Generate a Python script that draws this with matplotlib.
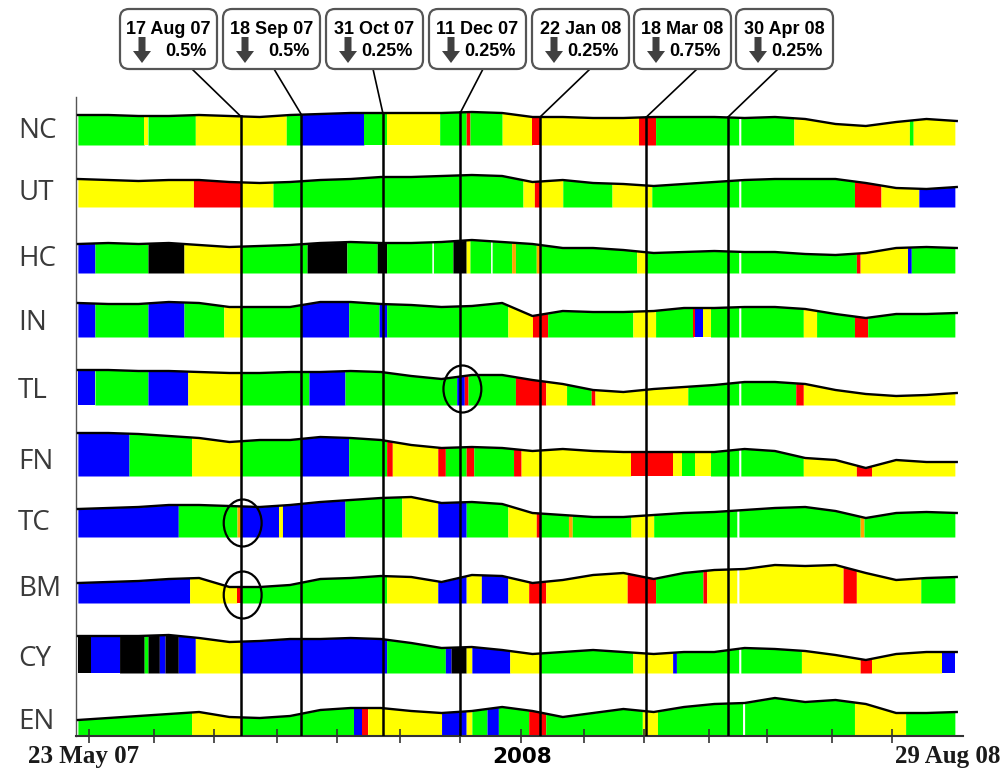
import numpy as np
import pandas as pd
import matplotlib
matplotlib.use("Agg")
import matplotlib.pyplot as plt
import matplotlib.patches as mpatches
from matplotlib.transforms import blended_transform_factory

W, H = 1005, 772

start = pd.Timestamp("2007-05-23")
end = pd.Timestamp("2008-08-29")
span = (end - start).days

rows = ["NC", "UT", "HC", "IN", "TL", "FN", "TC", "BM", "CY", "EN"]

# band heights every 16 days from 23 May 07
sample_days = np.arange(0, span + 1, 16)
nc_level = [30, 30, 29, 29, 30, 29, 28, 30, 31, 32, 32, 32, 32, 33, 32, 28, 28, 27, 27, 28, 28, 28, 27, 28, 26, 21, 19, 23, 26, 24]
ut_level = [28, 27, 26, 27, 27, 25, 24, 25, 27, 28, 30, 30, 31, 32, 31, 25, 27, 24, 23, 21, 23, 25, 27, 28, 28, 28, 24, 19, 18, 20]
hc_level = [29, 30, 29, 30, 28, 26, 27, 28, 30, 31, 30, 30, 31, 33, 31, 29, 25, 25, 23, 20, 21, 22, 21, 21, 19, 18, 20, 25, 26, 25]
in_level = [34, 33, 33, 35, 34, 30, 30, 30, 35, 35, 33, 32, 30, 31, 34, 21, 26, 25, 25, 26, 29, 29, 30, 30, 28, 23, 19, 23, 23, 24]
tl_level = [35, 35, 34, 34, 33, 32, 32, 33, 33, 34, 33, 29, 26, 30, 30, 25, 21, 15, 13, 16, 18, 20, 23, 23, 21, 15, 11, 9, 10, 12]
fn_level = [43, 43, 42, 40, 38, 34, 36, 36, 39, 38, 36, 31, 28, 29, 28, 25, 27, 25, 24, 24, 24, 24, 27, 25, 18, 16, 8, 16, 14, 14]
tc_level = [28, 29, 30, 32, 32, 31, 30, 32, 35, 37, 39, 40, 34, 35, 33, 24, 22, 20, 20, 22, 24, 25, 27, 29, 30, 26, 19, 24, 25, 24]
bm_level = [20, 21, 22, 24, 25, 16, 16, 18, 24, 25, 27, 26, 21, 28, 27, 20, 23, 28, 30, 24, 30, 33, 34, 38, 37, 38, 30, 23, 25, 26]
cy_level = [37, 37, 37, 38, 35, 31, 32, 34, 34, 35, 34, 30, 25, 26, 23, 19, 21, 23, 21, 19, 21, 21, 25, 24, 22, 18, 13, 19, 21, 21]
en_level = [16, 18, 20, 22, 24, 19, 18, 20, 26, 28, 28, 25, 23, 25, 29, 25, 19, 23, 27, 24, 29, 32, 33, 38, 34, 36, 32, 23, 23, 24]

# regimes: (first day, colour code)
nc_regime = [(0, "G"), (35, "Y"), (37, "G"), (62, "Y"), (110, "G"), (118, "B"), (151, "G"), (163, "Y"), (191, "G"),
             (205, "R"), (207, "G"), (224, "Y"), (240, "R"), (244, "Y"), (296, "R"), (305, "G"), (349, "W"), (350, "G"),
             (378, "Y"), (439, "G"), (441, "Y")]
ut_regime = [(0, "Y"), (61, "R"), (86, "Y"), (103, "G"), (235, "Y"), (241, "R"), (244, "Y"), (256, "G"), (282, "Y"),
             (303, "G"), (349, "W"), (350, "G"), (410, "R"), (424, "Y"), (444, "B")]
hc_regime = [(0, "B"), (9, "G"), (37, "K"), (56, "Y"), (86, "G"), (121, "K"), (142, "G"), (158, "K"), (163, "G"),
             (187, "W"), (187.7, "G"), (198, "K"), (205, "Y"), (207, "G"), (218, "W"), (218.7, "G"), (229, "O"),
             (231, "G"), (242, "O"), (244, "G"), (295, "Y"), (300, "G"), (349, "W"), (350, "G"), (411, "R"),
             (413, "Y"), (438, "B"), (440, "G")]
in_regime = [(0, "B"), (9, "G"), (37, "B"), (56, "G"), (77, "Y"), (86, "G"), (118, "B"), (143, "G"), (159, "B"),
             (163, "G"), (227, "Y"), (240, "R"), (248, "G"), (293, "Y"), (305, "G"), (325, "R"), (326, "B"), (330, "Y"),
             (334, "G"), (349, "W"), (350, "G"), (383, "Y"), (390, "G"), (410, "R"), (417, "G")]
tl_regime = [(0, "B"), (9, "G"), (37, "B"), (58, "Y"), (86, "G"), (122, "B"), (141, "G"), (200, "B"), (204, "R"),
             (206, "G"), (231, "R"), (247, "Y"), (258, "G"), (271, "R"), (273, "Y"), (322, "G"), (349, "W"), (350, "G"),
             (379, "R"), (383, "Y")]
fn_regime = [(0, "B"), (27, "G"), (60, "Y"), (86, "G"), (118, "B"), (143, "G"), (163, "R"), (166, "Y"), (190, "R"),
             (194, "G"), (205, "R"), (209, "G"), (230, "R"), (234, "Y"), (292, "R"), (314, "Y"), (319, "G"), (326, "Y"),
             (334, "G"), (349, "W"), (350, "G"), (383, "Y"), (411, "R"), (419, "Y")]
tc_regime = [(0, "B"), (53, "G"), (84, "O"), (86, "B"), (106, "Y"), (108, "B"), (141, "G"), (171, "Y"), (190, "B"),
             (205, "G"), (227, "Y"), (242, "R"), (244, "G"), (259, "O"), (261, "G"), (292, "Y"), (304, "G"), (348, "W"),
             (349, "G"), (413, "O"), (415, "G")]
bm_regime = [(0, "B"), (59, "Y"), (84, "R"), (86, "G"), (163, "Y"), (190, "B"), (205, "Y"), (213, "B"), (227, "Y"),
             (238, "R"), (247, "Y"), (290, "R"), (305, "G"), (330, "R"), (332, "Y"), (348, "W"), (349, "Y"), (404, "R"),
             (411, "Y"), (445, "G")]
cy_regime = [(0, "K"), (7, "B"), (22, "K"), (35, "G"), (37, "K"), (43, "B"), (46, "K"), (53, "B"), (62, "Y"),
             (86, "B"), (163, "G"), (194, "B"), (197, "K"), (205, "Y"), (208, "B"), (228, "Y"), (244, "G"), (293, "Y"),
             (314, "B"), (316, "G"), (349, "W"), (350, "G"), (382, "Y"), (413, "R"), (419, "Y"), (456, "B")]
en_regime = [(0, "G"), (60, "Y"), (86, "G"), (146, "B"), (150, "R"), (153, "Y"), (192, "B"), (205, "Y"), (208, "G"),
             (216, "B"), (222, "G"), (238, "R"), (247, "G"), (298, "Y"), (306, "G"), (351, "W"), (352, "G"), (410, "Y"),
             (437, "G")]

levels = [nc_level, ut_level, hc_level, in_level, tl_level, fn_level, tc_level, bm_level, cy_level, en_level]
regimes = [nc_regime, ut_regime, hc_regime, in_regime, tl_regime, fn_regime, tc_regime, bm_regime, cy_regime, en_regime]

# rate cuts
event_labels = ["17 Aug 07", "18 Sep 07", "31 Oct 07", "11 Dec 07", "22 Jan 08", "18 Mar 08", "30 Apr 08"]
event_cuts = ["0.5%", "0.5%", "0.25%", "0.25%", "0.25%", "0.75%", "0.25%"]
event_days = [(pd.to_datetime(s, format="%d %b %y") - start).days for s in event_labels]

tick_days = [6, 40, 72, 105, 137, 170, 202, 234, 267, 299, 333, 364, 398, 430]

# circled spots (row, event)
circled = [("TL", "11 Dec 07"), ("TC", "17 Aug 07"), ("BM", "17 Aug 07")]

# ---- layout ----
colours = {"G": "#00ff00", "Y": "#ffff00", "B": "#0000ff", "R": "#ff0000",
           "K": "#000000", "O": "#ffa500", "W": "#ffffff"}
row_base = [591, 529, 463, 399, 331, 260, 199, 133, 63, 0]
row_end = span - 1
box_left = [120, 223, 326, 429, 532, 634, 736]
box_link = [192, 274, 373, 483, 590, 697, 778]
circle_dy = [16, 14, 8]


def fp(x, y):
    return x / W, 1 - y / H


fig = plt.figure(figsize=(W / 100, H / 100), dpi=100)
ax = fig.add_axes([76 / W, (H - 736) / H, (963 - 76) / W, (736 - 97) / H])
ax.set_xlim(-1, 467.3)
ax.set_ylim(0, 639)

for name, base, lev, reg in zip(rows, row_base, levels, regimes):
    top = base + np.array(lev, dtype=float)
    bounds = [r[0] for r in reg] + [row_end]
    for (s, code), e in zip(reg, bounds[1:]):
        inner = sample_days[(sample_days > s) & (sample_days < e)]
        xs = np.concatenate([[s], inner, [e]])
        ys = np.interp(xs, sample_days, top)
        ax.fill_between(xs, base, ys, color=colours[code], lw=0, antialiased=False, zorder=1)
    ax.plot(sample_days, top, color="black", lw=1.7, zorder=3)

# row labels
lab_tr = blended_transform_factory(fig.transFigure, ax.transData)
for name, base in zip(rows, row_base):
    ax.text(18 / W, base + 14, name, transform=lab_tr, ha="left", va="center",
            fontsize=20, family="Open Sans", color="#3a3a3a")

# event lines, connectors and boxes
nc_top = row_base[0] + np.array(nc_level, dtype=float)
for d, lab, cut, left, link in zip(event_days, event_labels, event_cuts, box_left, box_link):
    ytop = np.interp(d, sample_days, nc_top)
    ax.plot([d, d], [0, ytop], color="black", lw=1.8, zorder=4)
    ax.annotate("", xy=(d, ytop), xycoords="data", xytext=(link, H - 69), textcoords="figure pixels",
                arrowprops=dict(arrowstyle="-", color="black", lw=1.2, shrinkA=0, shrinkB=0))
    x0, y0 = fp(left, 69)
    fig.add_artist(mpatches.FancyBboxPatch((x0, y0), 97 / W, 60 / H,
                                           boxstyle="round,pad=0,rounding_size=0.009",
                                           transform=fig.transFigure, fc="white", ec="#555555", lw=1.6,
                                           mutation_aspect=W / H))
    fig.text(*fp(left + 48.5, 29), lab, ha="center", va="center", fontsize=13,
             family="Liberation Sans", weight="bold", color="black")
    fig.text(*fp(left + 87, 52), cut, ha="right", va="center", fontsize=13,
             family="Liberation Sans", weight="bold", color="black")
    ax_, ay_ = fp(left + 22, 37)
    fig.add_artist(mpatches.FancyArrow(ax_, ay_, 0, -26 / H, width=7 / W, head_width=18 / W,
                                       head_length=12 / H, length_includes_head=True,
                                       transform=fig.transFigure, color="#404040", lw=0))

# circles
for (rname, ev), dy in zip(circled, circle_dy):
    i = rows.index(rname)
    d = event_days[event_labels.index(ev)]
    ax.add_patch(mpatches.Ellipse((d + 1, row_base[i] + dy), 20, 47, fill=False, ec="black", lw=1.6, zorder=5))

# axis styling
for side in ["top", "right"]:
    ax.spines[side].set_visible(False)
ax.spines["left"].set_color("#555555")
ax.spines["left"].set_linewidth(1.0)
ax.spines["bottom"].set_color("#333333")
ax.spines["bottom"].set_linewidth(1.5)
ax.set_yticks([])
ax.set_xticks(tick_days)
ax.tick_params(axis="x", direction="inout", length=9.5, width=1.2, color="#333333", labelbottom=False)

ax.annotate("23 May 07", xy=(0, 0), xycoords="data", xytext=(4, -15), textcoords="offset points",
            ha="center", va="center", fontsize=18, family="Liberation Serif", weight="bold", color="#1a1a1a")
ax.annotate("2008", xy=(234, 0), xycoords="data", xytext=(1, -15), textcoords="offset points",
            ha="center", va="center", fontsize=15.5, family="DejaVu Sans", weight="bold", color="black")
ax.annotate("29 Aug 08", xy=(span, 0), xycoords="data", xytext=(-6.5, -15), textcoords="offset points",
            ha="center", va="center", fontsize=18, family="Liberation Serif", weight="bold", color="#1a1a1a")

fig.savefig("out.png", dpi=100)
